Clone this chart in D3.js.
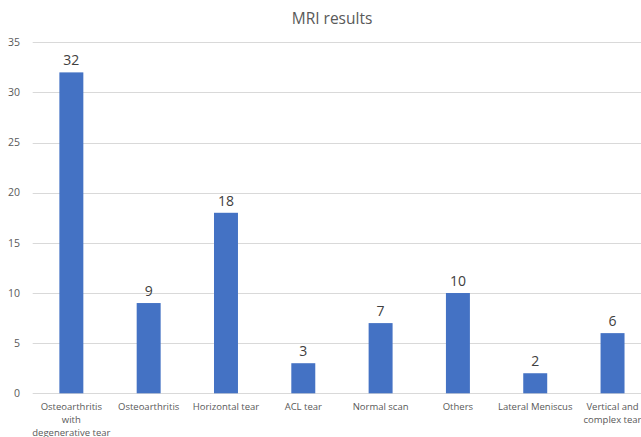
<!DOCTYPE html>
<html><head><meta charset="utf-8">
<script src="https://cdn.jsdelivr.net/npm/d3@7"></script>
<style>body{margin:0;background:#fff}svg{display:block}</style>
</head><body>
<script>
const categories = [["Osteoarthritis","with","degenerative tear"],["Osteoarthritis"],["Horizontal tear"],["ACL tear"],["Normal scan"],["Others"],["Lateral Meniscus"],["Vertical and","complex tear"]];
const values = [32, 9, 18, 3, 7, 10, 2, 6];
const yTicks = [0, 5, 10, 15, 20, 25, 30, 35];
const title = "MRI results";

const W = 641, H = 437;
const font = "'Open Sans', 'Noto Sans', sans-serif";
const svg = d3.select("body").append("svg").attr("width", W).attr("height", H);

const x = d3.scaleBand().domain(d3.range(categories.length)).range([32.7, 651.2]).paddingInner(0.69).paddingOuter(0.345);
const y = d3.scaleLinear().domain([0, 35]).range([393.3, 42.3]);

svg.append("g").selectAll("line").data(yTicks).join("line")
  .attr("x1", 32.7).attr("x2", W).attr("y1", d => Math.round(y(d)) + 0.5).attr("y2", d => Math.round(y(d)) + 0.5)
  .attr("stroke", "#d9d9d9").attr("stroke-width", 1);

svg.append("g").selectAll("text").data(yTicks).join("text")
  .attr("x", 20).attr("y", d => y(d)).attr("dy", "0.35em").attr("text-anchor", "end")
  .attr("font-family", font).attr("font-size", 10.5).attr("fill", "#595959").text(d => d);

svg.append("g").selectAll("rect").data(values).join("rect")
  .attr("x", (d, i) => x(i)).attr("width", x.bandwidth())
  .attr("y", d => y(d)).attr("height", d => y(0) - y(d)).attr("fill", "#4472C4");

svg.append("g").selectAll("text").data(values).join("text")
  .attr("x", (d, i) => x(i) + x.bandwidth() / 2).attr("y", d => y(d) - 7)
  .attr("text-anchor", "middle").attr("font-family", font).attr("font-size", 14).attr("fill", "#404040").text(d => d);

const cg = svg.append("g").selectAll("text").data(categories).join("text")
  .attr("text-anchor", "middle").attr("font-family", font).attr("font-size", 9.5).attr("fill", "#595959");
cg.each(function(lines, i) {
  d3.select(this).selectAll("tspan").data(lines).join("tspan")
    .attr("x", x(i) + x.bandwidth() / 2).attr("y", (l, j) => 409.5 + j * 13).text(l => l);
});

svg.append("text").attr("x", 332).attr("y", 24).attr("text-anchor", "middle")
  .attr("font-family", font).attr("font-size", 15.5).attr("fill", "#595959").text(title);
</script>
</body></html>
